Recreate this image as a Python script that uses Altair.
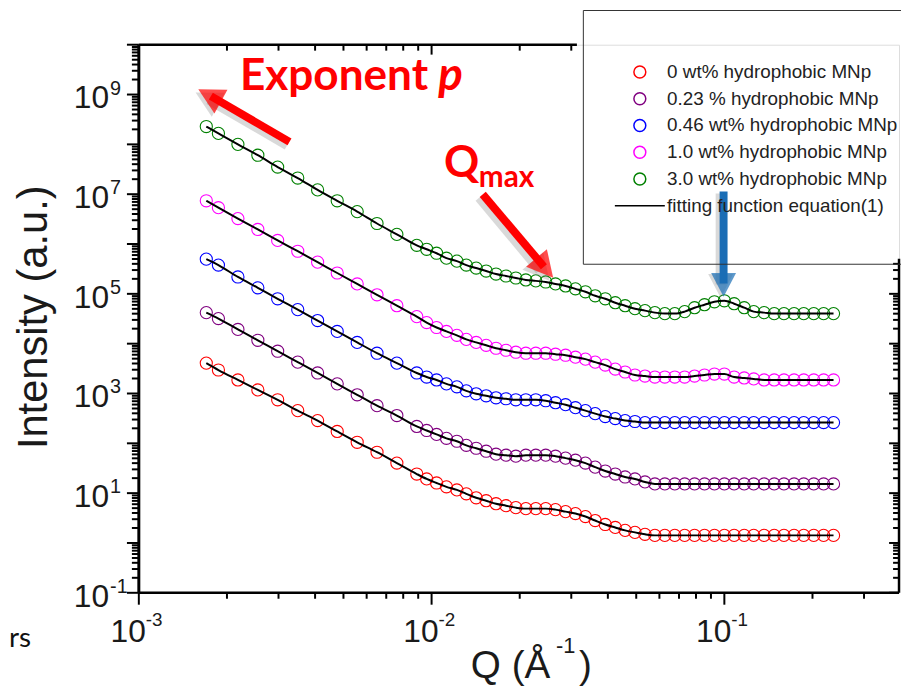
import altair as alt
import pandas as pd

# ---------------- data ----------------
q = [0.00170, 0.00187, 0.00218, 0.00255, 0.00298, 0.00349, 0.00408, 0.00476,
     0.00557, 0.00651, 0.00761, 0.00890,
     0.00962, 0.0104, 0.01124, 0.0122, 0.01314, 0.0142, 0.01536, 0.0166,
     0.01795, 0.0194, 0.02099, 0.0227, 0.02454, 0.0265, 0.02868, 0.0310,
     0.03353, 0.0362, 0.03919, 0.0424, 0.04581, 0.0495, 0.05356, 0.0579,
     0.0626, 0.0677, 0.07318, 0.0791, 0.08554, 0.0925,
     0.100, 0.108, 0.1169, 0.126, 0.1367, 0.148, 0.1598, 0.173, 0.1867, 0.202,
     0.2183, 0.236]

i_0wt = [4.07e3, 2.96e3, 1.87e3, 1.18e3, 748, 453, 286, 173, 105, 66.2, 40.1, 24.2,
         19.3, 16.0, 13.4, 11.6, 9.70, 8.07, 7.05, 6.14, 5.60, 5.12, 4.89, 4.89,
         4.89, 4.67, 4.26, 3.89, 3.39, 2.82, 2.35, 2.05, 1.79, 1.63, 1.49,
         1.42, 1.42, 1.42, 1.42, 1.42, 1.42, 1.42,
         1.42, 1.42, 1.42, 1.42, 1.42, 1.42, 1.42, 1.42, 1.42, 1.42, 1.42, 1.42]
i_023 = [4.20e4, 3.19e4, 1.93e4, 1.17e4, 7.05e3, 4.26e3, 2.58e3, 1.56e3, 942, 569, 361, 218,
         181, 151, 126, 110, 91.2, 79.6, 69.4, 60.5, 57.8, 55.2, 57.8, 57.8,
         57.8, 55.2, 50.4, 45.9, 40.1, 33.3, 27.8, 24.2, 21.1, 19.3, 16.8,
         15.3, 15.3, 15.3, 15.3, 15.3, 15.3, 15.3,
         15.3, 15.3, 15.3, 15.3, 15.3, 15.3, 15.3, 15.3, 15.3, 15.3, 15.3, 15.3]
i_046 = [4.97e5, 3.78e5, 2.18e5, 1.32e5, 7.96e4, 4.82e4, 2.91e4, 1.76e4, 1.06e4, 6.43e3, 4.07e3, 2.58e3,
         2.14e3, 1.87e3, 1.56e3, 1.36e3, 1.13e3, 986, 899, 820, 784, 748, 748, 748,
         716, 653, 596, 519, 453, 394, 344, 314, 286, 274, 261,
         261, 261, 261, 261, 261, 261, 261,
         261, 261, 261, 261, 261, 261, 261, 261, 261, 261, 261, 261]
i_10 = [7.38e6, 5.36e6, 3.24e6, 1.96e6, 1.18e6, 7.16e5, 4.33e5, 2.62e5, 1.58e5, 9.57e4, 5.78e4, 3.49e4,
        2.65e4, 2.11e4, 1.76e4, 1.47e4, 1.22e4, 1.06e4, 9.27e3, 8.09e3, 7.38e3, 6.73e3, 6.43e3, 6.43e3,
        6.43e3, 6.14e3, 5.86e3, 5.36e3, 4.89e3, 4.26e3, 3.72e3, 3.09e3, 2.70e3, 2.35e3, 2.24e3,
        2.14e3, 2.14e3, 2.14e3, 2.14e3, 2.24e3, 2.35e3, 2.46e3,
        2.46e3, 2.14e3, 2.05e3, 1.96e3, 1.87e3, 1.87e3, 1.87e3, 1.87e3, 1.87e3, 1.87e3, 1.87e3, 1.87e3]
i_30 = [2.28e8, 1.66e8, 1.00e8, 6.05e7, 3.50e7, 2.11e7, 1.22e7, 7.38e6, 4.47e6, 2.58e6, 1.56e6, 9.42e5,
        7.84e5, 6.53e5, 5.20e5, 4.53e5, 3.78e5, 3.29e5, 2.87e5, 2.50e5, 2.28e5, 2.08e5, 1.90e5, 1.82e5,
        1.73e5, 1.58e5, 1.44e5, 1.26e5, 1.10e5, 9.14e4, 7.96e4, 6.64e4, 5.78e4, 5.04e4, 4.60e4,
        4.20e4, 4.01e4, 4.01e4, 4.40e4, 5.27e4, 6.05e4, 6.93e4,
        7.26e4, 6.34e4, 5.27e4, 4.40e4, 4.20e4, 4.01e4, 4.01e4, 4.01e4, 4.01e4, 4.01e4, 4.01e4, 4.01e4]

series_labels = ["0 wt% hydrophobic MNp", "0.23 % hydrophobic MNp",
                 "0.46 wt% hydrophobic MNp", "1.0 wt% hydrophobic MNp",
                 "3.0 wt% hydrophobic MNp"]
fit_label = "fitting function equation(1)"
series_colors = ["#ff0000", "#800080", "#0000ff", "#ff00ff", "#008000"]

x_major = [0.001, 0.01, 0.1]
x_minor = [0.002, 0.003, 0.004, 0.005, 0.006, 0.007, 0.008, 0.009,
           0.02, 0.03, 0.04, 0.05, 0.06, 0.07, 0.08, 0.09, 0.2, 0.3]
x_top_major = [0.001, 0.01]
x_top_minor = [0.002, 0.003, 0.004, 0.005, 0.006, 0.007, 0.008, 0.009, 0.02, 0.03]
x_label_exp = [-3, -2, -1]
y_major_exp = list(range(-1, 11))
y_right_major_exp = list(range(-1, 6))
y_label_exp = [-1, 1, 3, 5, 7, 9]

# ---------------- tables ----------------
rows = []
for lab, vals in zip(series_labels, [i_0wt, i_023, i_046, i_10, i_30]):
    assert len(vals) == len(q)
    for qq, v in zip(q, vals):
        rows.append({"series": lab, "q": qq, "i": v})
df = pd.DataFrame(rows)

xmaj_df = pd.DataFrame({"v": x_major})
xmin_df = pd.DataFrame({"v": x_minor})
xtmaj_df = pd.DataFrame({"v": x_top_major})
xtmin_df = pd.DataFrame({"v": x_top_minor})
ymaj_df = pd.DataFrame({"v": [10.0 ** e for e in y_major_exp]})
ymin_df = pd.DataFrame({"v": [m * 10.0 ** e for e in range(-1, 10) for m in range(2, 10)]})
yrmaj_df = pd.DataFrame({"v": [10.0 ** e for e in y_right_major_exp]})
yrmin_df = pd.DataFrame({"v": [m * 10.0 ** e for e in range(-1, 6) for m in range(2, 10)
                               if m * 10.0 ** e < 4.5e5]})
xlab_df = pd.DataFrame({"v": [10.0 ** e for e in x_label_exp],
                        "base": ["10"] * len(x_label_exp),
                        "exp": [str(e) for e in x_label_exp]})
ylab_df = pd.DataFrame({"v": [10.0 ** e for e in y_label_exp],
                        "base": ["10"] * len(y_label_exp),
                        "exp": [str(e) for e in y_label_exp]})
one = pd.DataFrame({"k": [0]})

W, H = 767, 553
xs = alt.Scale(type="log", domain=[0.001, 0.395])
ys = alt.Scale(type="log", domain=[0.1, 1e10])
FONT = "Liberation Sans"
INK = "#1a1a1a"

legend = alt.Legend(
    title=" ", titleFontSize=5, titlePadding=0,
    orient="none", legendX=448, legendY=-35, padding=48,
    strokeColor="#333333",
    labelFont=FONT, labelFontSize=19, labelColor="#222222", labelLimit=600,
    labelOffset=18, rowPadding=7, symbolSize=144, symbolStrokeWidth=1.5,
)
dom = series_labels + [fit_label]

points = alt.Chart(df).mark_point(filled=False, size=150, strokeWidth=1.1, opacity=1).encode(
    x=alt.X("q:Q", scale=xs, axis=None),
    y=alt.Y("i:Q", scale=ys, axis=None),
    color=alt.Color("series:N", scale=alt.Scale(domain=dom, range=series_colors + ["#000000"]),
                    legend=legend),
    shape=alt.Shape("series:N", scale=alt.Scale(domain=dom, range=["circle"] * 5 + ["M-4.2,0L4.2,0"]),
                    legend=legend),
)

fit = alt.Chart(df).mark_line(color="black", strokeWidth=2, interpolate="monotone").encode(
    x=alt.X("q:Q", scale=xs, axis=None),
    y=alt.Y("i:Q", scale=ys, axis=None),
    detail="series:N",
)


def xticks(d, y1, y2):
    return alt.Chart(d).mark_rule(color="black", strokeWidth=2).encode(
        x=alt.X("v:Q", scale=xs, axis=None), y=alt.value(y1), y2=alt.value(y2))


def yticks(d, x1, x2):
    return alt.Chart(d).mark_rule(color="black", strokeWidth=2).encode(
        y=alt.Y("v:Q", scale=ys, axis=None), x=alt.value(x1), x2=alt.value(x2))


ticks = [
    xticks(xmaj_df, H, H + 12), xticks(xmin_df, H, H + 6),
    xticks(xtmaj_df, 0, 10), xticks(xtmin_df, 0, 6),
    yticks(ymaj_df, -12, 0), yticks(ymin_df, -7, 0),
    yticks(yrmaj_df, W - 10, W), yticks(yrmin_df, W - 6, W),
]


def seg(x1, y1, x2, y2, **kw):
    return alt.Chart(one).mark_rule(**kw).encode(
        x=alt.value(x1), y=alt.value(y1), x2=alt.value(x2), y2=alt.value(y2))


frame = [
    seg(0, 0, 0, H, color="black", strokeWidth=3),
    seg(0, H, W, H, color="black", strokeWidth=2.5),
    seg(0, 0, 442, 0, color="black", strokeWidth=2.5),
    seg(W, 216, W, H, color="black", strokeWidth=2.5),
]

xlab_base = alt.Chart(xlab_df).mark_text(font=FONT, fontSize=32, color=INK, align="right",
                                         baseline="alphabetic", dx=7).encode(
    x=alt.X("v:Q", scale=xs, axis=None), y=alt.value(H + 50), text="base:N")
xlab_exp = alt.Chart(xlab_df).mark_text(font=FONT, fontSize=19, color=INK, align="left",
                                        baseline="alphabetic", dx=7).encode(
    x=alt.X("v:Q", scale=xs, axis=None), y=alt.value(H + 34), text="exp:N")
ylab_base = alt.Chart(ylab_df).mark_text(font=FONT, fontSize=32, color=INK, align="right",
                                         baseline="alphabetic", dy=14).encode(
    y=alt.Y("v:Q", scale=ys, axis=None), x=alt.value(-30), text="base:N")
ylab_exp = alt.Chart(ylab_df).mark_text(font=FONT, fontSize=20, color=INK, align="left",
                                        baseline="alphabetic", dy=0).encode(
    y=alt.Y("v:Q", scale=ys, axis=None), x=alt.value(-29), text="exp:N")


def txt(s, x, y, **kw):
    return alt.Chart(one).mark_text(text=s, **kw).encode(x=alt.value(x), y=alt.value(y))


HEAD = "M0,-1L0.95,0.8L-0.95,0.8Z"


def head(x, y, ang, color, size=835, **kw):
    return alt.Chart(one).mark_point(shape=HEAD, filled=True, size=size, angle=ang,
                                     color=color, strokeWidth=0, **kw).encode(
        x=alt.value(x), y=alt.value(y))


SH = dict(color="#808080", opacity=0.3)
annotations = [
    # shadows
    seg(150, 101, 71, 55, strokeWidth=11, **SH),
    head(70, 55, 298.5, "#808080", opacity=0.3),
    seg(344, 154, 405, 227, strokeWidth=11, **SH),
    head(405, 227, 139.8, "#808080", opacity=0.3),
    seg(587, 150, 587, 242, strokeWidth=10, **SH),
    head(587, 242, 180, "#808080", size=700, opacity=0.3),
    # arrows
    seg(152, 98, 72.7, 51.9, strokeWidth=8, color="#ff0000"),
    head(72.7, 51.9, 298.5, "#ff0000"),
    seg(347, 151, 408.7, 224.0, strokeWidth=8, color="#ff0000"),
    head(408.7, 224.0, 139.8, "#ff0000"),
    seg(590, 148, 590, 241, strokeWidth=8, color="#1a6db5"),
    head(590, 241, 180, "#1a6db5", size=700),
    # texts
    txt("Exponent", 102, 46, font="Lato", fontWeight="bold", fontSize=44.5, color="#ff0000",
        align="left", baseline="alphabetic"),
    txt("p", 302, 46, font="Lato", fontWeight="bold", fontStyle="italic", fontSize=46,
        color="#ff0000", align="left", baseline="alphabetic"),
    txt("Q", 308, 133, font="Lato", fontWeight="bold", fontSize=44, color="#ff0000",
        align="left", baseline="alphabetic"),
    txt("max", 343, 144, font="Lato", fontWeight="bold", fontSize=30, color="#ff0000",
        align="left", baseline="alphabetic"),
    txt("Intensity (a.u.)", -93, 275, font=FONT, fontSize=42, color=INK, angle=270,
        align="center", baseline="alphabetic"),
    txt("Q (\u00c5", 335, 639, font=FONT, fontSize=39, color=INK, align="left",
        baseline="alphabetic"),
    txt("-1", 421, 614, font=FONT, fontSize=22, color=INK, align="left", baseline="alphabetic"),
    txt(")", 444, 639, font=FONT, fontSize=39, color=INK, align="left", baseline="alphabetic"),
    txt("rs", -131, 608, font="Lato", fontSize=28, color="#111111", align="left",
        baseline="alphabetic"),
]

chart = alt.layer(
    points, fit, *frame, *ticks, xlab_base, xlab_exp, ylab_base, ylab_exp, *annotations
).properties(
    width=W, height=H,
    padding={"left": 132, "top": 34, "right": 2, "bottom": 91},
    autosize=alt.AutoSizeParams(type="none"),
).configure_view(strokeWidth=0).configure(background="white")

chart.save("out.html", embed_options={"renderer": "svg", "actions": False})
